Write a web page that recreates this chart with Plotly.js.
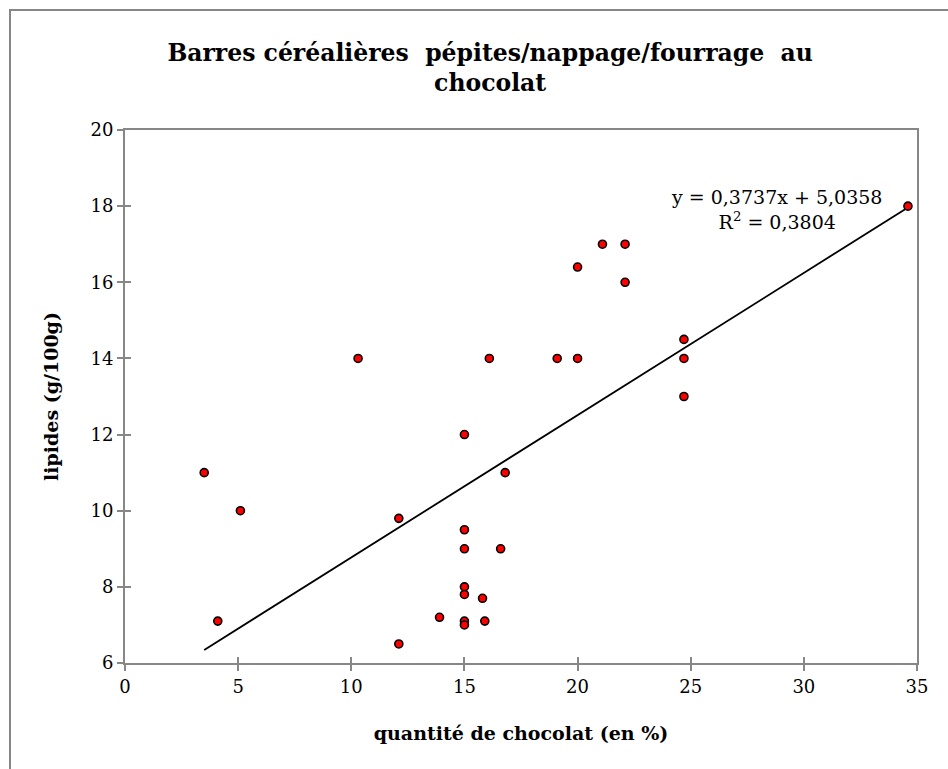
<!DOCTYPE html>
<html>
<head>
<meta charset="utf-8">
<script src="https://cdn.plot.ly/plotly-3.0.1.min.js"></script>
<style>
  html, body { margin: 0; padding: 0; background: #fff; }
  #wrap { position: relative; width: 948px; height: 769px; }
  #chart { position: absolute; left: 0; top: 0; width: 948px; height: 769px; }
  #frame { position: absolute; left: 9px; top: 9px; width: 939px; height: 760px;
           border-left: 2px solid #878787; border-top: 2px solid #878787;
           pointer-events: none; box-sizing: border-box; }
</style>
</head>
<body>
<div id="wrap">
  <div id="chart"></div>
  <div id="frame"></div>
</div>
<script>
// chocolate quantity (%)
const chocolat = [3.5, 5.1, 4.1, 12.1, 12.1, 15, 16.8, 15, 15, 16.6, 15, 15, 15.8, 13.9, 15, 15, 15.9,
                  10.3, 16.1, 34.6, 21.1, 22.1, 20, 22.1, 24.7, 19.1, 20, 24.7, 24.7];
// lipids (g/100g)
const lipides  = [11, 10, 7.1, 9.8, 6.5, 12, 11, 9.5, 9, 9, 8, 7.8, 7.7, 7.2, 7.1, 7.0, 7.1,
                  14, 14, 18, 17, 17, 16.4, 16, 14.5, 14, 14, 14, 13];
// trendline as displayed
const slope = 0.3737;
const intercept = 5.0358;
const r2 = 0.3804;
const xTicks = [0, 5, 10, 15, 20, 25, 30, 35];
const yTicks = [6, 8, 10, 12, 14, 16, 18, 20];

const fmt = v => v.toFixed(4).replace('.', ',');
const xmin = Math.min(...chocolat), xmax = Math.max(...chocolat);
const trendX = [xmin, xmax];
const trendY = trendX.map(x => slope * x + intercept);

const FONT = 'DejaVu Serif, Cambria, serif';

const traces = [
  {
    x: trendX, y: trendY, type: 'scatter', mode: 'lines',
    line: { color: '#000000', width: 1.8 }, hoverinfo: 'skip', showlegend: false
  },
  {
    x: chocolat, y: lipides, type: 'scatter', mode: 'markers',
    marker: { color: '#ff0000', size: 8, line: { color: '#000000', width: 1.6 } },
    showlegend: false
  },
  { x: [], y: [], xaxis: 'x2', yaxis: 'y2', type: 'scatter', showlegend: false, hoverinfo: 'skip' }
];

const axisCommon = {
  showgrid: false, zeroline: false, showline: true, linecolor: '#878787', linewidth: 2,
  ticks: 'outside', ticklen: 6, tickwidth: 2, tickcolor: '#878787',
  tickfont: { family: FONT, size: 18, color: '#000' }, mirror: true, tickmode: 'array'
};

const layout = {
  width: 948, height: 769,
  margin: { l: 125, r: 31, t: 130, b: 106 },
  paper_bgcolor: '#ffffff', plot_bgcolor: '#ffffff',
  title: {
    text: '<b>Barres céréalières  pépites/nappage/fourrage  au<br>chocolat</b>',
    font: { family: FONT, size: 23.5, color: '#000' },
    x: 0.461, xref: 'paper', xanchor: 'center', y: 0.921, yref: 'container', yanchor: 'top'
  },
  xaxis: Object.assign({}, axisCommon, {
    range: [0, 35], tickvals: xTicks, ticktext: xTicks.map(String),
    title: { text: '<b>quantité de chocolat (en %)</b>', font: { family: FONT, size: 19, color: '#000' }, standoff: 31 }
  }),
  yaxis: Object.assign({}, axisCommon, {
    range: [6, 20], tickvals: yTicks, ticktext: yTicks.map(String),
    title: { text: '<b>lipides (g/100g)</b>', font: { family: FONT, size: 19, color: '#000' }, standoff: 27 }
  }),
  xaxis2: {
    overlaying: 'x', matches: 'x', range: [0, 35], showgrid: false, zeroline: false, showline: false,
    ticks: 'inside', ticklen: 6, tickwidth: 2, tickcolor: '#878787', tickmode: 'array',
    tickvals: xTicks, showticklabels: false, side: 'bottom', anchor: 'y2'
  },
  yaxis2: {
    overlaying: 'y', range: [6, 20], showgrid: false, zeroline: false, showline: false,
    ticks: 'inside', ticklen: 6, tickwidth: 2, tickcolor: '#878787', tickmode: 'array',
    tickvals: yTicks, showticklabels: false, side: 'left', anchor: 'x2'
  },
  annotations: [{
    x: 28.8, y: 17.9, xref: 'x', yref: 'y', showarrow: false, align: 'center',
    text: 'y = ' + fmt(slope) + 'x + ' + fmt(intercept) + '<br>R<sup>2</sup> = ' + fmt(r2),
    font: { family: FONT, size: 19, color: '#000' }
  }]
};

Plotly.newPlot('chart', traces, layout, { displayModeBar: false, staticPlot: true });
</script>
</body>
</html>
